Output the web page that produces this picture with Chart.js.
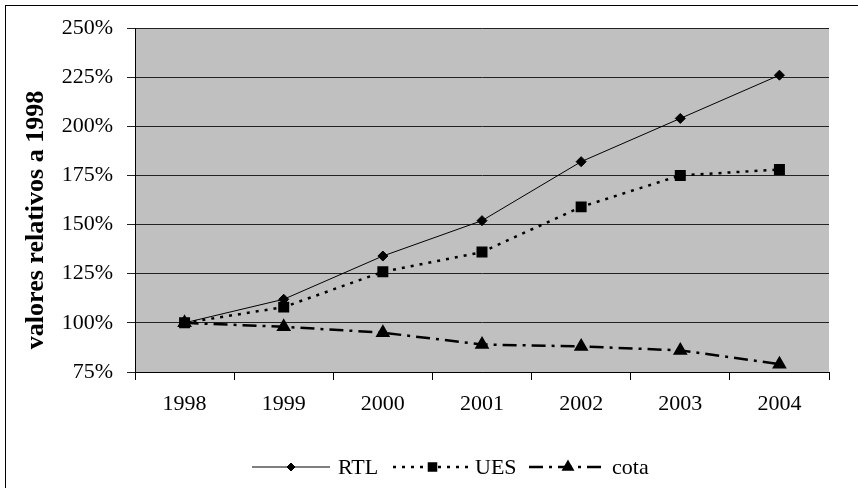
<!DOCTYPE html>
<html>
<head>
<meta charset="utf-8">
<script src="https://cdn.jsdelivr.net/npm/chart.js@4/dist/chart.umd.min.js"></script>
<style>
  html, body { margin: 0; padding: 0; background: #fff; }
  #wrap { width: 858px; height: 488px; position: relative; }
</style>
</head>
<body>
<div id="wrap"><canvas id="chart"></canvas></div>
<script>
const years = ['1998', '1999', '2000', '2001', '2002', '2003', '2004'];
const rtl = [100, 112, 134, 152, 182, 204, 226];
const ues = [100, 108, 126, 136, 159, 175, 178];
const cota = [100, 98, 95, 89, 88, 86, 79];
const yTicks = [75, 100, 125, 150, 175, 200, 225, 250];
const yTitle = 'valores relativos a 1998';

const serif = '"Liberation Serif", "Times New Roman", serif';

// grey plot area + outer frame
const frame = {
    id: 'frame',
    beforeDraw(chart) {
        const { ctx, chartArea: a } = chart;
        ctx.save();
        ctx.fillStyle = '#fff';
        ctx.fillRect(0, 0, chart.width, chart.height);
        ctx.fillStyle = '#c0c0c0';
        ctx.fillRect(a.left, a.top, a.right - a.left, a.bottom - a.top);
        ctx.strokeStyle = '#000';
        ctx.lineWidth = 1;
        ctx.strokeRect(5.5, 5.5, 870, 500);
        ctx.restore();
    }
};

// axis title + legend with line samples (office style)
const extras = {
    id: 'extras',
    afterDraw(chart) {
        const { ctx } = chart;
        ctx.save();
        ctx.translate(36, 220);
        ctx.rotate(-Math.PI / 2);
        ctx.fillStyle = '#000';
        ctx.font = 'bold 26px ' + serif;
        ctx.textAlign = 'center';
        ctx.textBaseline = 'middle';
        ctx.fillText(yTitle, 0, 0);
        ctx.restore();

        const y = 467;
        const items = [
            { ds: 0, x0: 252, x1: 330, tx: 338 },
            { ds: 1, x0: 393, x1: 472, tx: 475 },
            { ds: 2, x0: 529, x1: 607, tx: 612 }
        ];
        ctx.save();
        items.forEach(it => {
            const d = chart.data.datasets[it.ds];
            ctx.strokeStyle = '#000';
            ctx.lineWidth = d.borderWidth;
            ctx.setLineDash(d.borderDash || []);
            ctx.beginPath();
            ctx.moveTo(it.x0, y);
            ctx.lineTo(it.x1, y);
            ctx.stroke();
            ctx.setLineDash([]);
            const cx = (it.x0 + it.x1) / 2;
            Chart.helpers.drawPoint(ctx, {
                pointStyle: d.pointStyle,
                radius: d.pointRadius - 1,
                borderWidth: 1,
                rotation: 0
            }, cx, y);
            ctx.fillStyle = '#000';
            ctx.font = '22px ' + serif;
            ctx.textBaseline = 'alphabetic';
            ctx.fillText(d.label, it.tx, y + 7);
        });
        ctx.restore();
    }
};

const ctx = document.getElementById('chart').getContext('2d');
const common = { borderColor: '#000', backgroundColor: '#000', pointBorderColor: '#000', pointBackgroundColor: '#000', tension: 0 };

new Chart(ctx, {
    type: 'line',
    data: {
        labels: years,
        datasets: [
            { ...common, label: 'RTL', data: rtl, borderWidth: 1, pointStyle: 'rectRot', pointRadius: 5 },
            { ...common, label: 'UES', data: ues, borderWidth: 2.5, borderDash: [3, 6], pointStyle: 'rect', pointRadius: 6 },
            { ...common, label: 'cota', data: cota, borderWidth: 2.5, borderDash: [14, 6, 3, 6], pointStyle: 'triangle', pointRadius: 6 }
        ]
    },
    options: {
        responsive: true,
        maintainAspectRatio: false,
        animation: false,
        layout: { padding: { left: 5, top: 28, right: 29, bottom: 66 } },
        plugins: { legend: { display: false }, tooltip: { enabled: false } },
        scales: {
            x: {
                offset: true,
                grid: { offset: true, drawOnChartArea: false, color: '#000', tickLength: 8 },
                border: { color: '#000' },
                ticks: { color: '#000', padding: 11, maxRotation: 0, font: { family: serif, size: 22 } },
                afterFit: s => { s.height = 50; }
            },
            y: {
                min: 75,
                max: 250,
                afterBuildTicks: s => { s.ticks = yTicks.map(v => ({ value: v })); },
                grid: { color: '#222', tickLength: 8 },
                border: { color: '#000' },
                ticks: { color: '#000', padding: 14, font: { family: serif, size: 22 }, callback: v => v + '%' },
                afterFit: s => { s.width = 130; }
            }
        }
    },
    plugins: [frame, extras]
});
</script>
</body>
</html>
